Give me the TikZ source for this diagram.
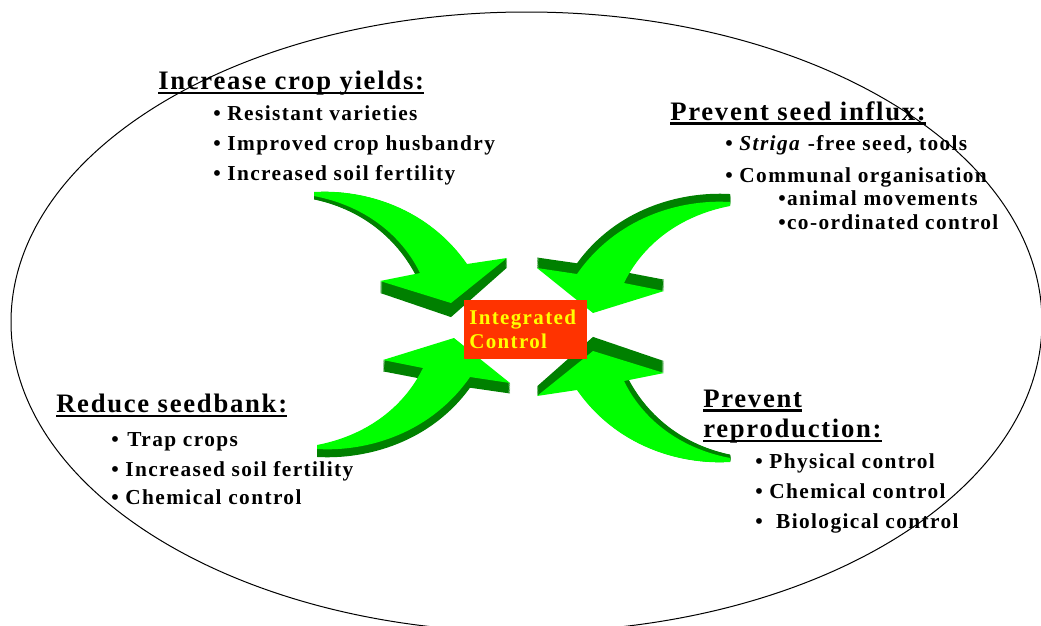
\documentclass[tikz,border=0pt]{standalone}
\usepackage{fontspec}
\setmainfont[LetterSpace=6.5]{Liberation Serif}
\definecolor{facegreen}{RGB}{0,255,0}
\definecolor{sidegreen}{RGB}{0,128,0}
\definecolor{boxred}{RGB}{255,51,0}
\definecolor{boxyellow}{RGB}{255,255,0}
% outline of one curved block arrow (tail upper left, head pointing to the centre)
\newcommand\arrowshape{(314,192) .. controls (365,189) and (428,208) .. (467,264)
  -- (507,258) -- (451,303) -- (380,281) -- (420,273)
  .. controls (402,236) and (366,206) .. (314,196) -- cycle}
% #1 = depth scale of the back face, #2 = y about which it is scaled
\newcommand\greenarrow[2]{%
  \foreach \t in {1,...,12}{%
    \pgfmathsetmacro\sc{1+(#1-1)*\t/12}%
    \fill[arrowside, shift={(0,#2)}, yscale=\sc, shift={(0,-#2)}] \arrowshape;}%
  \fill[arrowface] \arrowshape;}
\begin{document}
\begin{tikzpicture}[x=0.75pt,y=-0.75pt,
  arrowface/.style={fill=facegreen},
  arrowside/.style={fill=sidegreen},
  hdr/.style={anchor=base west, inner sep=0pt, font=\bfseries\fontsize{20}{24}\selectfont},
  itm/.style={anchor=base west, inner sep=0pt, font=\bfseries\fontsize{16}{19}\selectfont},
  boxtxt/.style={anchor=base west, inner sep=0pt, text=boxyellow, font=\bfseries\fontsize{15.75}{19}\selectfont},
  ul/.style={line width=1.9pt}]
\useasboundingbox (0,0) rectangle (1041,625);
\clip (0,0) rectangle (1041,625);

% outer ellipse
\draw[line width=0.75pt] (526.5,322) ellipse [x radius=515.5, y radius=310];

% the four 3D arrows
\begin{scope}
  \greenarrow{1.1}{162}
\end{scope}
\begin{scope}[shift={(1044,654)}, xscale=-1, yscale=-1]
  \greenarrow{1.1}{162}
\end{scope}
\begin{scope}[shift={(3,641)}, yscale=-1]
  \greenarrow{0.962}{-18}
\end{scope}
\begin{scope}[shift={(1044,10)}, xscale=-1]
  \greenarrow{0.962}{-18}
\end{scope}

% centre box
\node (core) [fill=boxred, inner sep=0pt, minimum width=92.25pt, minimum height=44.25pt] at (525.5,329.5) {};
\node[boxtxt] (core1) at (469,324) {Integrated};
\node[boxtxt] (core2) at (469,348) {Control};

% top left block
\node[hdr] (h1) at (158,89) {Increase crop yields:};
\draw[ul] ([shift={(0,4)}]h1.base west) -- ([shift={(0,4)}]h1.base east);
\node[itm] (a1) at (213,120) {• Resistant varieties};
\node[itm] (a2) at (213,150) {• Improved crop husbandry};
\node[itm] (a3) at (213,180) {• Increased soil fertility};

% top right block
\node[hdr] (h2) at (670,120) {Prevent seed influx:};
\draw[ul] ([shift={(0,3.5)}]h2.base west) -- ([shift={(0,3.5)}]h2.base east);
\node[itm] (b1) at (725,150) {• \textit{Striga} -free seed, tools};
\node[itm] (b2) at (725,182) {• Communal organisation};
\node[itm] (b3) at (778,205) {•animal movements};
\node[itm] (b4) at (778,229) {•co-ordinated control};

% bottom left block
\node[hdr] (h3) at (56,412) {Reduce seedbank:};
\draw[ul] ([shift={(0,4)}]h3.base west) -- ([shift={(0,4)}]h3.base east);
\node[itm] (c1) at (111,446) {• \kern1.5pt Trap crops};
\node[itm] (c2) at (111,476) {• Increased soil fertility};
\node[itm] (c3) at (111,504) {• Chemical control};

% bottom right block
\node[hdr] (h4) at (703,407) {Prevent};
\draw[ul] ([shift={(0,3.5)}]h4.base west) -- ([shift={(0,3.5)}]h4.base east);
\node[hdr] (h5) at (703,437) {reproduction:};
\draw[ul] ([shift={(0,4)}]h5.base west) -- ([shift={(0,4)}]h5.base east);
\node[itm] (d1) at (755,468) {• Physical control};
\node[itm] (d2) at (755,498) {• Chemical control};
\node[itm] (d3) at (755,528) {•\ \ Biological control};
\end{tikzpicture}
\end{document}
